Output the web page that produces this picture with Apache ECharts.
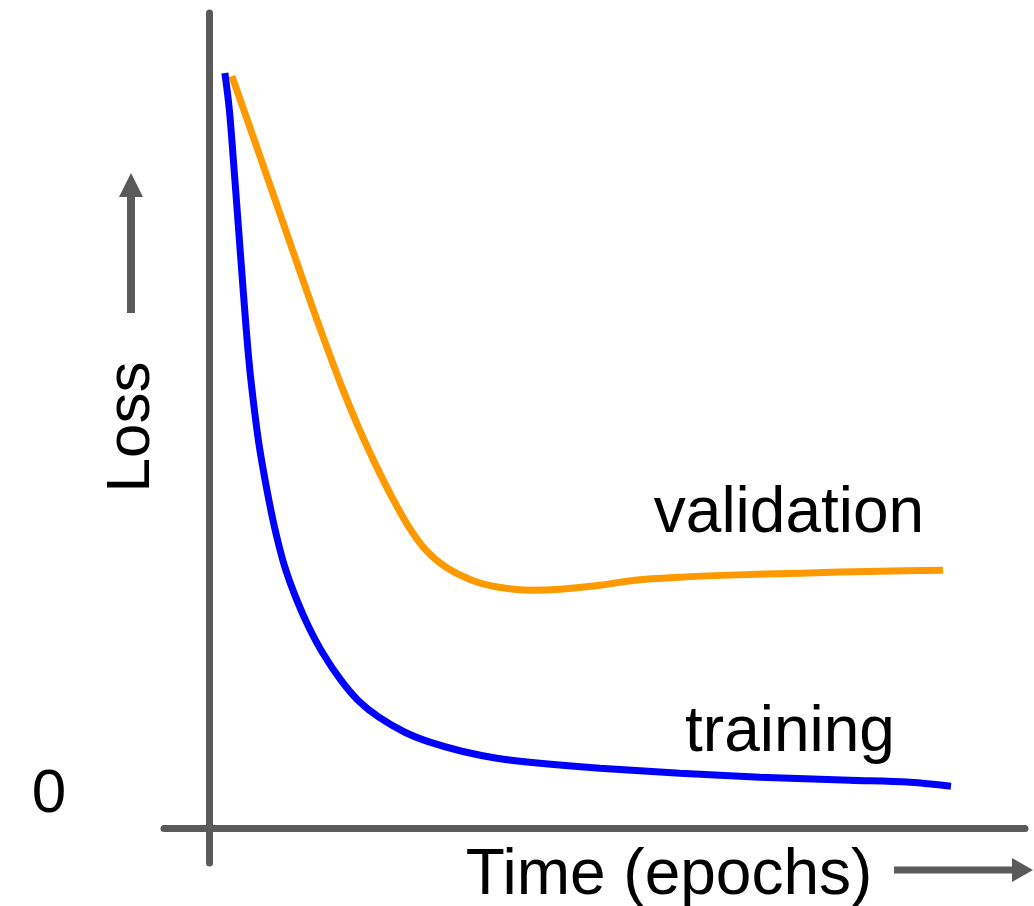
<!DOCTYPE html>
<html>
<head>
<meta charset="utf-8">
<title>Loss curves</title>
<script src="https://cdn.jsdelivr.net/npm/echarts@6/dist/echarts.min.js"></script>
<style>
    html, body { margin: 0; padding: 0; background: #fff; }
    #loss_chart { width: 1034px; height: 906px; }
</style>
</head>
<body>
<div id="loss_chart"></div>
<script>
// ------------------------------
// Data
// ------------------------------
var trainingEpochs = [1.96, 2.51, 3.00, 3.62, 4.23, 4.90, 5.58, 6.25, 7.35, 8.21, 9.31, 10.78, 12.25, 13.97, 16.18, 18.26, 20.83, 24.02, 27.08, 31.00, 35.29, 40.56, 47.92, 57.72, 67.52, 78.55, 85.91, 90.93];
var trainingLoss   = [92.64, 88.10, 81.97, 73.76, 65.66, 57.45, 51.32, 46.41, 40.28, 36.24, 32.07, 28.02, 24.71, 21.52, 18.21, 15.76, 13.67, 11.83, 10.61, 9.50, 8.65, 8.03, 7.42, 6.81, 6.32, 5.95, 5.70, 5.21];

var validationEpochs = [2.82, 6.00, 9.19, 12.38, 14.28, 16.30, 18.32, 20.34, 22.43, 24.51, 26.59, 29.04, 32.23, 35.54, 39.58, 43.01, 47.92, 52.21, 57.72, 63.85, 72.43, 82.23, 89.95];
var validationLoss   = [92.27, 83.20, 74.00, 64.80, 59.53, 54.14, 49.23, 44.82, 40.65, 36.97, 34.15, 32.07, 30.47, 29.61, 29.24, 29.37, 29.86, 30.47, 30.84, 31.09, 31.33, 31.58, 31.70];

var axisColor = '#5a5a5a';
var textFont = '"Liberation Sans", Arial, sans-serif';

function pairs(xs, ys) {
    return xs.map(function (x, i) { return [x, ys[i]]; });
}

var lossChart = echarts.init(document.getElementById('loss_chart'));

var option = {
    animation: false,
    grid: {
        left: 164,
        right: 9,
        top: 13,
        bottom: 43
    },

    // Horizontal axis (line sits on loss = 0)
    xAxis: {
        type: 'value',
        min: -5.5,
        max: 100,
        axisLine: { show: true, onZero: true, lineStyle: { color: axisColor, width: 7 } },
        axisTick: { show: false },
        axisLabel: { show: false },
        splitLine: { show: false }
    },

    // Vertical axis (line sits on epoch = 0)
    yAxis: {
        type: 'value',
        min: -4.2,
        max: 100,
        axisLine: { show: true, onZero: true, lineStyle: { color: axisColor, width: 7 } },
        axisTick: { show: false },
        axisLabel: { show: false },
        splitLine: { show: false }
    },

    series: [
        {
            name: 'validation',
            type: 'line',
            smooth: 0.35,
            showSymbol: false,
            lineStyle: { color: '#ff9900', width: 7 },
            data: pairs(validationEpochs, validationLoss)
        },
        {
            name: 'training',
            type: 'line',
            smooth: 0.35,
            showSymbol: false,
            lineStyle: { color: '#0000ff', width: 7 },
            data: pairs(trainingEpochs, trainingLoss)
        }
    ],

    // Labels and arrows
    graphic: [
        {
            type: 'text', x: 132, y: 427, rotation: Math.PI / 2,
            style: { text: 'Loss', font: '62px ' + textFont, fill: '#000', align: 'center', verticalAlign: 'middle' }
        },
        {
            type: 'text', x: 49, y: 795,
            style: { text: '0', font: '62px ' + textFont, fill: '#000', align: 'center', verticalAlign: 'middle' }
        },
        {
            type: 'text', x: 669, y: 876,
            style: { text: 'Time (epochs)', font: '64px ' + textFont, fill: '#000', align: 'center', verticalAlign: 'middle' }
        },
        {
            type: 'text', x: 789, y: 514,
            style: { text: 'validation', font: '64px ' + textFont, fill: '#000', align: 'center', verticalAlign: 'middle' }
        },
        {
            type: 'text', x: 790, y: 733,
            style: { text: 'training', font: '64px ' + textFont, fill: '#000', align: 'center', verticalAlign: 'middle' }
        },
        // y arrow
        {
            type: 'line',
            shape: { x1: 131, y1: 313, x2: 131, y2: 194 },
            style: { stroke: axisColor, lineWidth: 8 }
        },
        {
            type: 'polygon',
            shape: { points: [[131, 173], [119, 197], [143, 197]] },
            style: { fill: axisColor }
        },
        // x arrow
        {
            type: 'line',
            shape: { x1: 894, y1: 870, x2: 1014, y2: 870 },
            style: { stroke: axisColor, lineWidth: 7 }
        },
        {
            type: 'polygon',
            shape: { points: [[1033, 870], [1012, 858], [1012, 882]] },
            style: { fill: axisColor }
        }
    ]
};

lossChart.setOption(option);
</script>
</body>
</html>
